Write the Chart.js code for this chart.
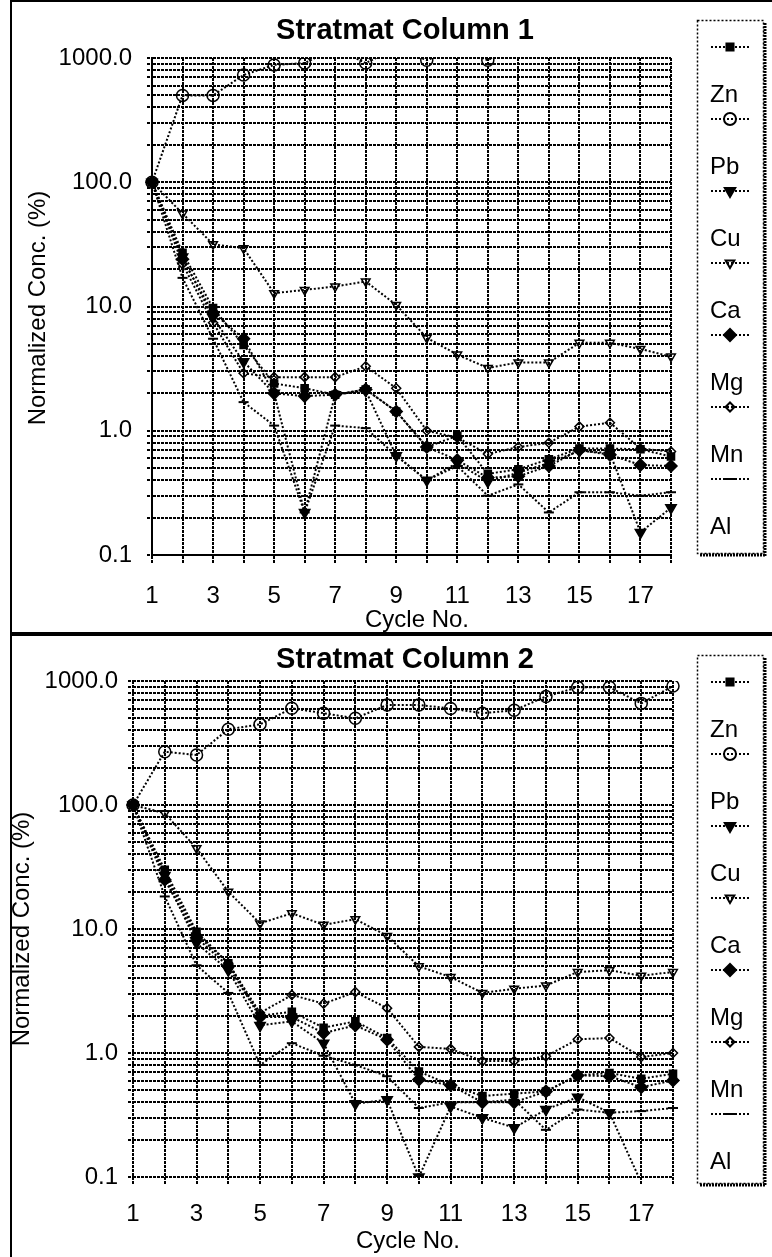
<!DOCTYPE html>
<html>
<head>
<meta charset="utf-8">
<script src="https://cdn.jsdelivr.net/npm/chart.js@4.4.1/dist/chart.umd.min.js"></script>
<style>
  html, body { margin: 0; padding: 0; background: #fff; }
  body { width: 772px; height: 1257px; position: relative; overflow: hidden; }
  .panel { position: absolute; left: 0; width: 772px; }
  #p1 { top: 0; height: 632px; }
  #p2 { top: 636px; height: 621px; }
  .rule { position: absolute; background: #000; }
</style>
</head>
<body>
<div class="panel" id="p1"><canvas id="c1" width="772" height="632"></canvas></div>
<div class="panel" id="p2"><canvas id="c2" width="772" height="621"></canvas></div>
<div class="rule" style="left:10px;top:0;width:762px;height:2px"></div>
<div class="rule" style="left:10px;top:0;width:2px;height:1257px"></div>
<div class="rule" style="left:10px;top:632px;width:762px;height:4px"></div>

<script>
// ---- data -------------------------------------------------------------
const cycles = [1, 2, 3, 4, 5, 6, 7, 8, 9, 10, 11, 12, 13, 14, 15, 16, 17, 18];
const seriesNames = ['Zn', 'Pb', 'Cu', 'Ca', 'Mg', 'Mn', 'Al'];

// Stratmat Column 1, normalized concentration (%)
const col1Zn = [100, 27, 9.7, 4.9, 2.4, 2.2, 1.95, 2.15, 1.43, 0.74, 0.91, 0.45, 0.49, 0.59, 0.72, 0.72, 0.71, 0.62];
const col1Pb = [100, 500, 500, 730, 880, 910, 1200, 910, 1200, 960, 1200, 960, 1300, 1300, 1300, 1300, 1300, 1300];
const col1Cu = [100, 25, 8.1, 3.6, 2.0, 0.22, 1.95, 2.1, 0.63, 0.40, 0.55, 0.39, 0.46, 0.55, 0.69, 0.66, 0.152, 0.24];
const col1Ca = [100, 56, 31.7, 29.4, 12.8, 13.6, 14.5, 15.9, 10.3, 5.6, 4.1, 3.2, 3.55, 3.55, 5.1, 5.1, 4.55, 3.95];
const col1Mg = [100, 24, 8.9, 5.5, 2.0, 1.9, 1.95, 2.15, 1.43, 0.74, 0.58, 0.42, 0.43, 0.52, 0.70, 0.64, 0.53, 0.52];
const col1Mn = [100, 22, 7.4, 2.9, 2.7, 2.7, 2.7, 3.3, 2.2, 1.0, 0.88, 0.65, 0.74, 0.80, 1.08, 1.16, 0.72, 0.68];
const col1Al = [100, 17, 5.5, 1.7, 1.1, 0.22, 1.1, 1.05, 0.63, 0.40, 0.52, 0.30, 0.37, 0.22, 0.32, 0.32, 0.30, 0.32];

// Stratmat Column 2, normalized concentration (%)
const col2Zn = [100, 30, 9.5, 5.3, 2.0, 2.15, 1.6, 1.8, 1.32, 0.71, 0.55, 0.45, 0.47, 0.49, 0.66, 0.69, 0.62, 0.68];
const col2Pb = [100, 269, 253, 408, 447, 602, 550, 500, 641, 641, 600, 550, 580, 750, 890, 890, 660, 910];
const col2Cu = [100, 27, 7.7, 4.65, 1.67, 1.8, 1.2, 0.39, 0.42, 0.1, 0.37, 0.30, 0.25, 0.35, 0.44, 0.33, 0.09, 0.08];
const col2Ca = [100, 85.7, 44.8, 20, 11.1, 13.4, 10.8, 12.0, 8.8, 5.0, 4.1, 3.05, 3.3, 3.5, 4.5, 4.65, 4.2, 4.5];
const col2Mg = [100, 25, 8.5, 5.0, 1.95, 1.95, 1.45, 1.67, 1.28, 0.61, 0.55, 0.40, 0.40, 0.49, 0.66, 0.65, 0.53, 0.60];
const col2Mn = [100, 28, 9, 5.3, 2.1, 2.94, 2.5, 3.1, 2.3, 1.12, 1.08, 0.86, 0.86, 0.94, 1.29, 1.32, 0.93, 1.0];
const col2Al = [100, 18.3, 5.1, 3.05, 0.80, 1.2, 0.95, 0.8, 0.65, 0.36, 0.4, 0.4, 0.42, 0.24, 0.35, 0.33, 0.34, 0.36];

// axis labelling
const yTickValues = [0.1, 1, 10, 100, 1000];
const yTickLabels = ['0.1', '1.0', '10.0', '100.0', '1000.0'];
const xTickLabels = ['1', '3', '5', '7', '9', '11', '13', '15', '17'];

// ---- styling ----------------------------------------------------------
const FONT = '"Liberation Sans", Arial, sans-serif';
const markers = {
  Zn: { pointStyle: 'rect',    radius: 5,   rotation: 0,   filled: true },
  Pb: { pointStyle: 'circle',  radius: 6,   rotation: 0,   filled: false },
  Cu: { pointStyle: 'triangle',radius: 6,   rotation: 180, filled: true },
  Ca: { pointStyle: 'triangle',radius: 5,   rotation: 180, filled: false },
  Mg: { pointStyle: 'rectRot', radius: 6,   rotation: 0,   filled: true },
  Mn: { pointStyle: 'rectRot', radius: 4.5, rotation: 0,   filled: false },
  Al: { pointStyle: 'line',    radius: 5,   rotation: 0,   filled: false }
};

// gridline values: every 1..9 x 10^k between 0.1 and 1000
const gridValues = [];
for (let e = -1; e <= 2; e++) {
  for (let m = 1; m <= 9; m++) gridValues.push(+(m * Math.pow(10, e)).toPrecision(3));
}
gridValues.push(1000);

function dataset(name, values) {
  const mk = markers[name];
  return {
    label: name,
    data: cycles.map((c, i) => ({ x: c, y: values[i] })),
    borderColor: '#000',
    borderWidth: 2,
    borderDash: [2, 2],
    tension: 0,
    fill: false,
    pointStyle: mk.pointStyle,
    pointRadius: mk.radius,
    pointRotation: mk.rotation,
    pointBackgroundColor: mk.filled ? '#000' : 'rgba(0,0,0,0)',
    pointBorderColor: '#000',
    pointBorderWidth: mk.pointStyle === 'line' ? 2 : 1.5,
    clip: { left: 10, right: 10, top: 0, bottom: 0 }
  };
}

// titles and legend box drawn on top of the plot
const panelText = {
  id: 'panelText',
  afterDraw(chart, args, o) {
    const ctx = chart.ctx;
    ctx.save();
    ctx.fillStyle = '#000';
    ctx.textBaseline = 'middle';
    // chart title
    ctx.font = 'bold 29px ' + FONT;
    ctx.textAlign = 'center';
    ctx.fillText(o.title, o.titleX, o.titleY);
    // x axis title
    ctx.font = '24px ' + FONT;
    ctx.fillText('Cycle No.', o.xTitleX, o.xTitleY);
    // y axis title
    ctx.save();
    ctx.translate(o.yTitleX, o.yTitleY);
    ctx.rotate(-Math.PI / 2);
    ctx.fillText('Normalized Conc. (%)', 0, 0);
    ctx.restore();

    // legend
    const lg = o.legend;
    ctx.strokeStyle = '#000';
    ctx.lineWidth = 1.5;
    ctx.setLineDash([2, 2]);
    ctx.strokeRect(lg.x + 0.5, lg.y + 0.5, lg.w, lg.h);
    ctx.lineWidth = 3;
    ctx.setLineDash([2, 1]);
    ctx.beginPath();
    ctx.moveTo(lg.x + lg.w + 2, lg.y + 3);
    ctx.lineTo(lg.x + lg.w + 2, lg.y + lg.h + 3);
    ctx.moveTo(lg.x + 3, lg.y + lg.h + 2);
    ctx.lineTo(lg.x + lg.w + 3, lg.y + lg.h + 2);
    ctx.stroke();

    chart.data.datasets.forEach((ds, i) => {
      const my = lg.y + lg.markerOffset + i * lg.step;
      const cx = lg.x + lg.w / 2;
      ctx.lineWidth = 2;
      ctx.setLineDash([2, 2]);
      ctx.beginPath();
      ctx.moveTo(cx - 19, my);
      ctx.lineTo(cx + 19, my);
      ctx.stroke();
      ctx.setLineDash([]);
      const mk = markers[ds.label];
      ctx.fillStyle = mk.filled ? '#000' : 'rgba(0,0,0,0)';
      ctx.strokeStyle = '#000';
      Chart.helpers.drawPoint(ctx, {
        pointStyle: mk.pointStyle, radius: mk.radius, rotation: mk.rotation,
        borderWidth: mk.pointStyle === 'line' ? 2 : 1.5
      }, cx, my);
      ctx.fillStyle = '#000';
      ctx.font = '24px ' + FONT;
      ctx.textAlign = 'left';
      ctx.fillText(ds.label, lg.x + 13, lg.y + lg.labelOffset + i * lg.step);
    });
    ctx.restore();
  }
};

function makePanel(canvasId, series, g) {
  const gridStyle = { color: '#000', lineWidth: 2, tickColor: '#000', tickWidth: 2, tickBorderDash: [3, 1] };
  return new Chart(document.getElementById(canvasId), {
    type: 'line',
    data: { datasets: seriesNames.map((n, i) => dataset(n, series[i])) },
    options: {
      responsive: false,
      animation: false,
      events: [],
      layout: { padding: { left: 0, right: g.padRight, top: g.padTop, bottom: 0 } },
      plugins: {
        legend: { display: false },
        title: { display: false },
        tooltip: { enabled: false },
        panelText: g.text
      },
      scales: {
        x: {
          type: 'linear', min: 1, max: 18,
          afterBuildTicks: s => { s.ticks = cycles.map(v => ({ value: v })); },
          afterFit: s => { s.height = g.xHeight; },
          ticks: {
            autoSkip: false, maxRotation: 0, color: '#000', padding: g.xPad,
            font: { family: FONT, size: 24 },
            callback: v => (xTickLabels.includes(String(v)) ? String(v) : '')
          },
          grid: Object.assign({ tickLength: 8 }, gridStyle),
          border: { display: g.solidAxes, color: '#000', width: 2, dash: [3, 1] }
        },
        y: {
          type: 'logarithmic', min: 0.1, max: 1000,
          afterBuildTicks: s => { s.ticks = gridValues.map(v => ({ value: v })); },
          afterFit: s => { s.width = g.yWidth; },
          ticks: {
            autoSkip: false, color: '#000', padding: g.yPad,
            font: { family: FONT, size: 24 },
            callback: v => {
              const k = yTickValues.findIndex(t => Math.abs(t - v) < 1e-9);
              return k >= 0 ? yTickLabels[k] : '';
            }
          },
          grid: Object.assign({ tickLength: 5 }, gridStyle),
          border: { display: g.solidAxes, color: '#000', width: 2, dash: [3, 1] }
        }
      }
    },
    plugins: [panelText]
  });
}

makePanel('c1', [col1Zn, col1Pb, col1Cu, col1Ca, col1Mg, col1Mn, col1Al], {
  padTop: 58, padRight: 101, yWidth: 152, xHeight: 77, xPad: 19, yPad: 15, solidAxes: true,
  text: {
    title: 'Stratmat Column 1', titleX: 405, titleY: 31,
    xTitleX: 417, xTitleY: 620, yTitleX: 38, yTitleY: 308,
    legend: { x: 697, y: 20, w: 66, h: 533, step: 72, markerOffset: 27, labelOffset: 75 }
  }
});

makePanel('c2', [col2Zn, col2Pb, col2Cu, col2Ca, col2Mg, col2Mn, col2Al], {
  padTop: 45, padRight: 99, yWidth: 133, xHeight: 80, xPad: 15, yPad: 10, solidAxes: false,
  text: {
    title: 'Stratmat Column 2', titleX: 405, titleY: 24,
    xTitleX: 408, xTitleY: 605, yTitleX: 22, yTitleY: 293,
    legend: { x: 697, y: 19, w: 66, h: 528, step: 72, markerOffset: 27, labelOffset: 75 }
  }
});
</script>
</body>
</html>
